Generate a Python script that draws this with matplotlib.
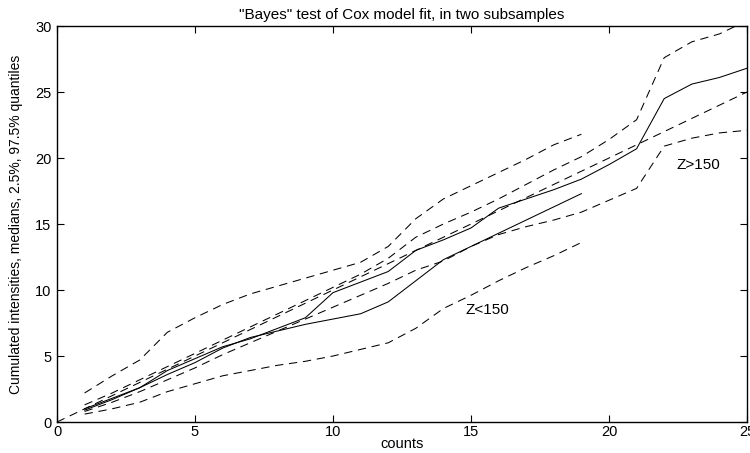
import matplotlib
matplotlib.use('Agg')
import matplotlib.pyplot as plt

plt.rcParams['font.family'] = ['Liberation Sans', 'DejaVu Sans']

# Z>150 subsample (counts 1..25)
x_hi = list(range(1, 26))
med_hi = [1.0, 1.8, 2.6, 3.9, 4.8, 5.7, 6.3, 7.1, 7.9, 9.8, 10.6, 11.4, 13.0,
          13.8, 14.7, 16.2, 16.9, 17.6, 18.4, 19.5, 20.7, 24.5, 25.6, 26.1, 26.8]
lo_hi = [0.8, 1.5, 2.3, 3.2, 4.1, 5.1, 6.0, 6.9, 7.8, 8.7, 9.6, 10.5, 11.5,
         12.2, 13.3, 14.2, 14.8, 15.3, 15.9, 16.8, 17.7, 20.9, 21.5, 21.9, 22.1]
up_hi = [1.3, 2.2, 3.2, 4.2, 5.2, 6.2, 7.2, 8.2, 9.2, 10.2, 11.2, 12.4, 14.0,
         15.0, 15.9, 16.9, 18.0, 19.1, 20.1, 21.4, 22.9, 27.6, 28.8, 29.4, 30.4]

# Z<150 subsample (counts 1..19)
x_lo = list(range(1, 20))
med_lo = [0.9, 1.7, 2.6, 3.6, 4.5, 5.6, 6.4, 6.9, 7.4, 7.8, 8.2, 9.1, 10.7,
          12.3, 13.3, 14.3, 15.3, 16.3, 17.3]
lo_lo = [0.6, 1.0, 1.5, 2.3, 2.9, 3.5, 3.9, 4.3, 4.6, 5.0, 5.5, 6.0, 7.1,
         8.6, 9.6, 10.7, 11.7, 12.6, 13.6]
up_lo = [2.2, 3.5, 4.7, 6.8, 7.9, 8.9, 9.7, 10.3, 10.9, 11.5, 12.1, 13.3, 15.4,
         16.9, 17.9, 18.9, 19.9, 21.0, 21.8]

# reference diagonal
ref_x = [0, 25]
ref_y = [0, 25]

fig = plt.figure(figsize=(7.5, 4.53), dpi=100)
ax = fig.add_axes([0.076, 0.0684, 0.92, 0.8742])

dash = (0, (8, 5.5))
lw = 0.75
ax.plot(ref_x, ref_y, color='black', lw=lw, linestyle=dash)
ax.plot(x_hi, med_hi, color='black', lw=lw)
ax.plot(x_hi, lo_hi, color='black', lw=lw, linestyle=dash)
ax.plot(x_hi, up_hi, color='black', lw=lw, linestyle=dash)
ax.plot(x_lo, med_lo, color='black', lw=lw)
ax.plot(x_lo, lo_lo, color='black', lw=lw, linestyle=dash)
ax.plot(x_lo, up_lo, color='black', lw=lw, linestyle=dash)

ax.text(14.8, 8.5, 'Z<150', fontsize=11, va='center')
ax.text(22.45, 19.45, 'Z>150', fontsize=11, va='center')

ax.set_xlim(0, 25)
ax.set_ylim(0, 30)
ax.set_xticks([0, 5, 10, 15, 20, 25])
ax.set_yticks([0, 5, 10, 15, 20, 25, 30])
ax.tick_params(direction='in', length=5, width=0.8, top=True, right=True,
               labelsize=10.5, pad=4)
ax.tick_params(axis='x', pad=2.5)
for s in ax.spines.values():
    s.set_linewidth(1.0)

ax.set_xlabel('counts', fontsize=10.5, labelpad=-1.5)
ax.set_ylabel('Cumulated intensities, medians, 2.5%, 97.5% quantiles',
              fontsize=10, labelpad=9)
ax.set_title('"Bayes" test of Cox model fit, in two subsamples', fontsize=11,
             pad=5)

fig.savefig('out.png', dpi=100)
